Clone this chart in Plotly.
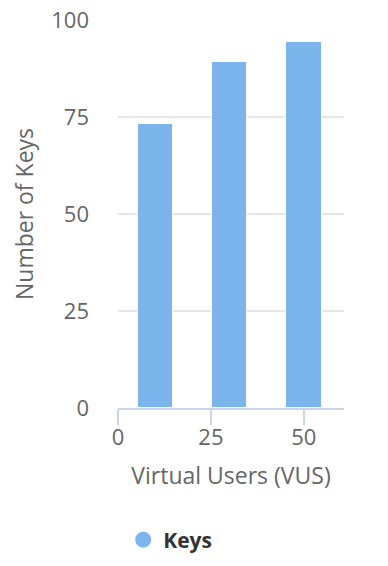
import plotly.graph_objects as go

virtual_users = [10, 30, 50]
keys = [73.2, 89.2, 94.4]
x_ticks = [0, 25, 50]
y_ticks = [0, 25, 50, 75, 100]

FONT = "Open Sans"
fig = go.Figure()
fig.add_trace(go.Bar(
    x=virtual_users, y=keys, name="Keys", width=9.5,
    marker=dict(color="#7cb5ec", line=dict(color="#ffffff", width=1)),
    showlegend=False,
))
fig.add_trace(go.Scatter(
    x=[None], y=[None], mode="markers", name="Keys",
    marker=dict(color="#7cb5ec", size=22, symbol="circle"),
))
fig.update_layout(
    width=388, height=566,
    margin=dict(l=110, r=52, t=12, b=166),
    plot_bgcolor="white", paper_bgcolor="white",
    font=dict(family=FONT, color="#666666", size=22),
    showlegend=True,
    legend=dict(orientation="h", x=0.023, xanchor="left", yref="container", y=0.06, yanchor="middle",
                font=dict(family=FONT, size=21, color="#333333", weight="bold"),
                itemsizing="trace"),
    bargap=0,
)
fig.update_xaxes(
    range=[0, 60.8], tickvals=x_ticks, ticks="outside", ticklen=15, tickcolor="#ccd6eb",
    tickwidth=2, showline=True, linecolor="#ccd6eb", linewidth=2, showgrid=False, zeroline=False,
    automargin=False, ticklabelstandoff=-6, ticklabeloverflow="allow",
    title=dict(text="Virtual Users (VUS)", font=dict(size=23, color="#666666"), standoff=17),
    tickfont=dict(size=22, color="#666666"),
)
fig.update_yaxes(
    range=[0, 100], tickvals=y_ticks, showgrid=True, gridcolor="#e6e6e6", gridwidth=1.5,
    zeroline=False, showline=False, ticks="", ticklabelstandoff=28, automargin=False,
    ticklabeloverflow="allow",
    title=dict(text="Number of Keys", font=dict(size=23, color="#666666"), standoff=33),
    tickfont=dict(size=22, color="#666666"),
)
fig.write_html("out.html")
